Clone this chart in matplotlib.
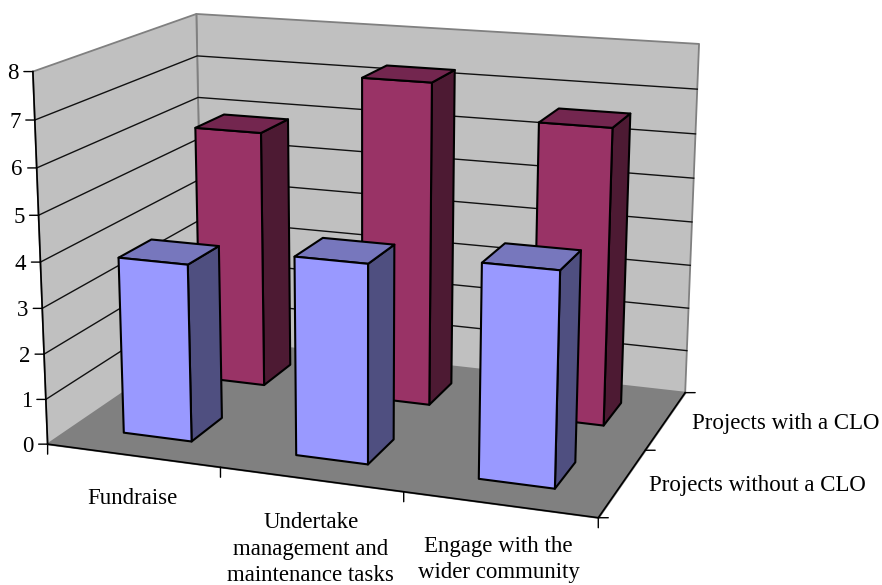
import matplotlib
matplotlib.use('Agg')
import matplotlib.pyplot as plt
from mpl_toolkits.mplot3d import proj3d
from mpl_toolkits.mplot3d.art3d import Poly3DCollection

plt.rcParams['font.family']=['Liberation Serif','DejaVu Serif']
plt.rcParams['font.size']=16.5

categories=['Fundraise','Undertake\nmanagement and\nmaintenance tasks','Engage with the\nwider community']
series=['Projects without a CLO','Projects with a CLO']
without_clo=[3.9,4.3,4.55]
with_clo=[5.9,7.3,6.6]
z_ticks=[0,1,2,3,4,5,6,7,8]

# face, side and top colours for each row of bars
front_cols=('#9999FF','#4F4F80','#7777BD')
back_cols=('#993366','#4D1A33','#73264F')

fig=plt.figure(figsize=(8.82,5.85),dpi=100)
ax=fig.add_axes([0.19334,0.23325,0.45754,0.68982],projection='3d',computed_zorder=False)
ax.set_xlim(0,3,view_margin=0)
ax.set_ylim(0,2,view_margin=0)
ax.set_zlim(0,8,view_margin=0)
ax.view_init(14.8797,-70.184,-0.0938)
ax.set_box_aspect((1.4972,0.9965,1),zoom=1.8444)
ax.set_axis_off()

def screen(x,y,z):
    xp,yp,_=proj3d.proj_transform(x,y,z,ax.get_proj())
    return (xp,yp)

def add_faces(faces,colors,edge,lw,order):
    p=Poly3DCollection(faces,facecolors=colors,edgecolors=edge,linewidths=lw,zorder=order)
    p.set_clip_on(False)
    ax.add_collection3d(p)

def line(xs,ys,zs,color='k',lw=1.2,order=2):
    ax.plot(xs,ys,zs,color=color,lw=lw,zorder=order,clip_on=False)

def tick(pos,dx,dy):
    ax.annotate('',xy=screen(*pos),xytext=(dx,dy),textcoords='offset pixels',annotation_clip=False,
                arrowprops=dict(arrowstyle='-',color='k',lw=1,shrinkA=0,shrinkB=0),zorder=6)

def label(pos,text,dx,dy,ha='center',va='center'):
    ax.annotate(text,xy=screen(*pos),xytext=(dx,dy),textcoords='offset pixels',ha=ha,va=va,
                multialignment='center',linespacing=1.33,annotation_clip=False,zorder=6)

# floor and walls
add_faces([[(0,0,0),(3,0,0),(3,2,0),(0,2,0)]],['#808080'],'#808080',1.0,1)
add_faces([[(0,0,0),(0,2,0),(0,2,8),(0,0,8)],[(0,2,0),(3,2,0),(3,2,8),(0,2,8)]],['#C0C0C0','#C0C0C0'],'#808080',1.3,1)

for z in z_ticks[1:-1]:
    line([0,0,3],[0,2,2],[z,z,z],color='#111111',lw=1.0)

line([0,3,3],[0,0,2],[0,0,0])
line([0,0],[0,0],[0,8])

# back row first so the front row paints over it
order=3
for y0,vals,cols in [(1.3,with_clo,back_cols),(0.3,without_clo,front_cols)]:
    y1=y0+0.4
    for i,v in enumerate(vals):
        x0,x1=i+0.3,i+0.7
        faces=[[(x0,y0,0),(x1,y0,0),(x1,y0,v),(x0,y0,v)],
               [(x1,y0,0),(x1,y1,0),(x1,y1,v),(x1,y0,v)],
               [(x0,y0,v),(x1,y0,v),(x1,y1,v),(x0,y1,v)]]
        add_faces(faces,list(cols),'k',1.5,order)
        order+=0.1

# value axis
for z in z_ticks:
    tick((0,0,z),-9,0)
    label((0,0,z),str(z),-14,-2,ha='right')

# category axis
for i in range(4):
    tick((i,0,0),0,-10)
for i,name in enumerate(categories):
    label((i+0.5,0,0),name,[0,0,-1][i],[-43,-33,-31][i],va='top' if i else 'center')

# series axis
for j in range(3):
    tick((3,j,0),10,0)
for j,name in enumerate(series):
    label((3,j+0.5,0),name,26,-3,ha='left')

fig.savefig('out.png',dpi=100)
